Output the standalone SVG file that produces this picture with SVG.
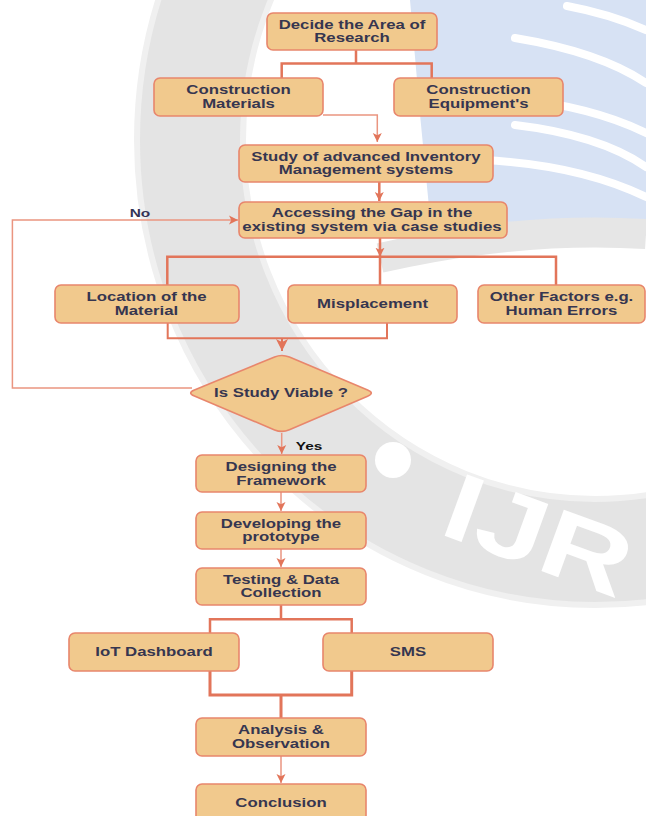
<svg xmlns="http://www.w3.org/2000/svg" width="646" height="816" viewBox="0 0 646 816">
<style>
.box{fill:#F1C98D;stroke:#E8866C;stroke-width:1.6}
.t{font-family:"Liberation Sans",Arial,sans-serif;font-weight:bold;font-size:12px;fill:#363650;text-anchor:middle}
.lbl{font-family:"Liberation Sans",Arial,sans-serif;font-weight:bold;font-size:11px;text-anchor:middle}
.c{fill:none;stroke:#E2755A;stroke-width:2.5}
.cl{fill:none;stroke:#EA9580;stroke-width:1.5}
</style>
<defs>
<marker id="ah" viewBox="0 0 10 10" refX="10" refY="5" markerWidth="9" markerHeight="11" orient="auto" markerUnits="userSpaceOnUse">
<path d="M0,0 L10,5 L0,10 L2.5,5 Z" fill="#E2755A"/>
</marker>
<marker id="ahb" viewBox="0 0 10 10" refX="10" refY="5" markerWidth="12" markerHeight="16" orient="auto" markerUnits="userSpaceOnUse">
<path d="M0,0 L10,5 L0,10 L2.5,5 Z" fill="#E2755A"/>
</marker>
</defs>
<rect width="646" height="816" fill="#ffffff"/>
<g id="watermark">
<ellipse cx="595" cy="140" rx="405" ry="412" fill="none" stroke="#f0f0f0" stroke-width="112"/>
<ellipse cx="595" cy="140" rx="405" ry="412" fill="none" stroke="#e4e4e4" stroke-width="100"/>
<path d="M410,0 L646,0 L646,236 Q540,220 432,238 Q420,120 410,0 Z" fill="#d7e2f4"/>
<path d="M567,6 Q610,14 646,30 M515,38 Q600,52 646,83 M500,97 Q590,105 646,133 M515,125 Q600,135 646,167 M483,160 Q580,165 646,197" fill="none" stroke="#ffffff" stroke-width="8" stroke-linecap="round"/>
<path d="M380,258 Q520,226 646,234" fill="none" stroke="#e6e6e6" stroke-width="30"/>
<circle cx="393" cy="460" r="18" fill="#ffffff"/>
<text x="0" y="0" transform="translate(437 533) rotate(20) scale(1.3 1)" font-family="Liberation Sans, Arial, sans-serif" font-weight="bold" font-size="95" fill="#ffffff">IJR</text>
</g>
<g id="connectors">
<path class="c" d="M356,50 V63.5 M281.7,78 V63.5 H431.7 V78"/>
<path class="cl" d="M323,115 H377.3 V142" marker-end="url(#ah)"/>
<path class="c" d="M379.3,182 V201" marker-end="url(#ah)"/>
<path class="c" d="M380,238 V256.7" marker-end="url(#ah)"/>
<path class="c" d="M167.3,285 V256.7 H556 V285 M380,256.7 V285"/>
<path class="c" style="stroke-width:2" d="M167.7,323 V338.3 H387 V323"/>
<path class="c" style="stroke-width:2" d="M282,338.3 V351" marker-end="url(#ahb)"/>
<path class="cl" d="M192,388 H12.4 V220 H238" marker-end="url(#ah)"/>
<path class="cl" d="M281.7,433 V454" marker-end="url(#ah)"/>
<path class="cl" d="M281,492 V511" marker-end="url(#ah)"/>
<path class="cl" d="M281,549 V567" marker-end="url(#ah)"/>
<path class="c" d="M281,605 V619.3 M210,633 V619.3 H351.7 V633"/>
<path class="c" style="stroke-width:3" d="M210,671 V695 H351.7 V671 M281,695 V718"/>
<path class="cl" d="M281,756 V783" marker-end="url(#ah)"/>
<text class="lbl" fill="#333355" transform="translate(140 216.5) scale(1.4 1)">No</text>
<text class="lbl" fill="#111111" transform="translate(309 450) scale(1.4 1)">Yes</text>
</g>
<g id="n1"><rect class="box" x="267" y="13" width="170" height="37" rx="6"/>
<text class="t" transform="translate(352 28.5) scale(1.4 1)"><tspan x="0" y="0">Decide the Area of</tspan><tspan x="0" y="14">Research</tspan></text></g>
<g id="n2"><rect class="box" x="154" y="78" width="169" height="38" rx="6"/>
<text class="t" transform="translate(238.5 94) scale(1.4 1)"><tspan x="0" y="0">Construction</tspan><tspan x="0" y="14">Materials</tspan></text></g>
<g id="n3"><rect class="box" x="394" y="78" width="169" height="38" rx="6"/>
<text class="t" transform="translate(478.5 94) scale(1.4 1)"><tspan x="0" y="0">Construction</tspan><tspan x="0" y="14">Equipment's</tspan></text></g>
<g id="n4"><rect class="box" x="239" y="145" width="254" height="37" rx="6"/>
<text class="t" transform="translate(366 160.5) scale(1.4 1)"><tspan x="0" y="0">Study of advanced Inventory</tspan><tspan x="0" y="14">Management systems</tspan></text></g>
<g id="n5"><rect class="box" x="239" y="202" width="268" height="36" rx="6"/>
<text class="t" transform="translate(372 217) scale(1.4 1)"><tspan x="0" y="0">Accessing the Gap in the</tspan><tspan x="0" y="14">existing system via case studies</tspan></text></g>
<g id="n6"><rect class="box" x="55" y="285" width="184" height="38" rx="6"/>
<text class="t" transform="translate(146.5 301) scale(1.4 1)"><tspan x="0" y="0">Location of the</tspan><tspan x="0" y="14">Material</tspan></text></g>
<g id="n7"><rect class="box" x="288" y="285" width="169" height="38" rx="6"/>
<text class="t" transform="translate(372.5 308) scale(1.4 1)">Misplacement</text></g>
<g id="n8"><rect class="box" x="478" y="285" width="167" height="38" rx="6"/>
<text class="t" transform="translate(561.5 301) scale(1.4 1)"><tspan x="0" y="0">Other Factors e.g.</tspan><tspan x="0" y="14">Human Errors</tspan></text></g>
<g id="n9"><path class="box" d="M289.4,357.1 L367.6,389.9 Q375,393 367.6,396.2 L289.4,429.8 Q282,433 274.6,429.9 L194.4,396.1 Q187,393 194.4,390 L274.6,357 Q282,354 289.4,357.1 Z"/>
<text class="t" transform="translate(281 397) scale(1.4 1)">Is Study Viable ?</text></g>
<g id="n10"><rect class="box" x="196" y="455" width="170" height="37" rx="6"/>
<text class="t" transform="translate(281 471) scale(1.4 1)"><tspan x="0" y="0">Designing the</tspan><tspan x="0" y="14">Framework</tspan></text></g>
<g id="n11"><rect class="box" x="196" y="512" width="170" height="37" rx="6"/>
<text class="t" transform="translate(281 527.5) scale(1.4 1)"><tspan x="0" y="0">Developing the</tspan><tspan x="0" y="14">prototype</tspan></text></g>
<g id="n12"><rect class="box" x="196" y="568" width="170" height="37" rx="6"/>
<text class="t" transform="translate(281 583.5) scale(1.4 1)"><tspan x="0" y="0">Testing &amp; Data</tspan><tspan x="0" y="14">Collection</tspan></text></g>
<g id="n13"><rect class="box" x="69" y="633" width="170" height="38" rx="6"/>
<text class="t" transform="translate(154 656) scale(1.4 1)">IoT Dashboard</text></g>
<g id="n14"><rect class="box" x="323" y="633" width="170" height="38" rx="6"/>
<text class="t" transform="translate(408 656) scale(1.4 1)">SMS</text></g>
<g id="n15"><rect class="box" x="196" y="718" width="170" height="38" rx="6"/>
<text class="t" transform="translate(281 734) scale(1.4 1)"><tspan x="0" y="0">Analysis &amp;</tspan><tspan x="0" y="14">Observation</tspan></text></g>
<g id="n16"><rect class="box" x="196" y="784" width="170" height="40" rx="6"/>
<text class="t" transform="translate(281 807) scale(1.4 1)">Conclusion</text></g>
</svg>
